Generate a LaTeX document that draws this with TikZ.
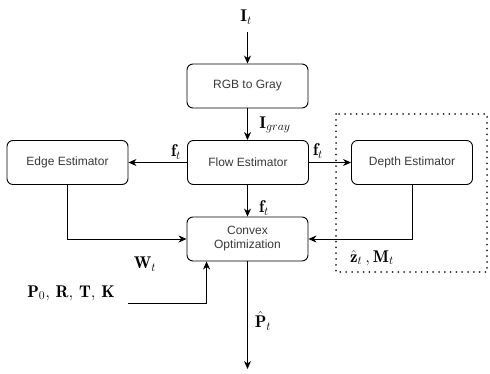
\documentclass[tikz,border=0pt]{standalone}
\usepackage{fontspec}
\usepackage{amsmath}
\setsansfont{Liberation Sans}
\usetikzlibrary{arrows.meta,calc}
\begin{document}
\begin{tikzpicture}[x=1pt,y=-1pt,
  blk/.style={draw=black,line width=0.9pt,rounded corners=6pt,minimum width=121pt,minimum height=44pt,
    inner sep=2pt,align=center,font=\sffamily\fontsize{12}{14}\selectfont,text=black!78},
  arr/.style={line width=0.9pt,-{Stealth[length=8pt,width=7pt,inset=2.5pt]}},
  lab/.style={font=\fontsize{17}{20}\selectfont,inner sep=0pt}]
\useasboundingbox (0,0) rectangle (490,374);
\draw[line width=2pt,line cap=round,dash pattern=on 0pt off 5.8pt,black!85] (336,114) rectangle (487,272);
\node[blk] (rgb) at (247.5,86) {RGB to Gray};
\node[blk] (flow) at (248,162.5) {Flow Estimator};
\node[blk] (edge) at (67.5,162.5) {Edge Estimator};
\node[blk] (depth) at (412,162.5) {Depth Estimator};
\node[blk] (cvx) at (247.5,239) {Convex\\Optimization};
\coordinate (in) at (247.5,32);
\coordinate (out) at (247.5,369);
\coordinate (pin) at (128,303);
\node[lab] (lIt) at (246,17) {$\mathbf{I}_t$};
\node[lab] (lIg) at (275,125) {$\mathbf{I}_{gray}$};
\node[lab] (lf1) at (176,152) {$\mathbf{f}_t$};
\node[lab] (lf2) at (318,151) {$\mathbf{f}_t$};
\node[lab] (lf3) at (264,208) {$\mathbf{f}_t$};
\node[lab] (lW) at (145,264) {$\mathbf{W}_t$};
\node[lab] (lz) at (372,258) {$\hat{\mathbf{z}}_t\,,\mathbf{M}_t$};
\node[lab] (lP) at (71,293) {$\mathbf{P}_0,\,\mathbf{R},\,\mathbf{T},\,\mathbf{K}$};
\node[lab] (lPh) at (263,321) {$\hat{\mathbf{P}}_t$};
\draw[arr] (in) -- (rgb.north);
\draw[arr] (rgb.south) -- (flow.north -| rgb.south);
\draw[arr] (flow.west) -- (edge.east);
\draw[arr] (flow.east) -- (depth.west);
\draw[arr] (flow.south -| cvx.north) -- (cvx.north);
\draw[arr] (edge.south) |- (cvx.west);
\draw[arr] (depth.south) |- (cvx.east);
\draw[arr] (pin) -| ([xshift=20pt]cvx.south west);
\draw[arr] (cvx.south) -- (out);
\end{tikzpicture}
\end{document}
